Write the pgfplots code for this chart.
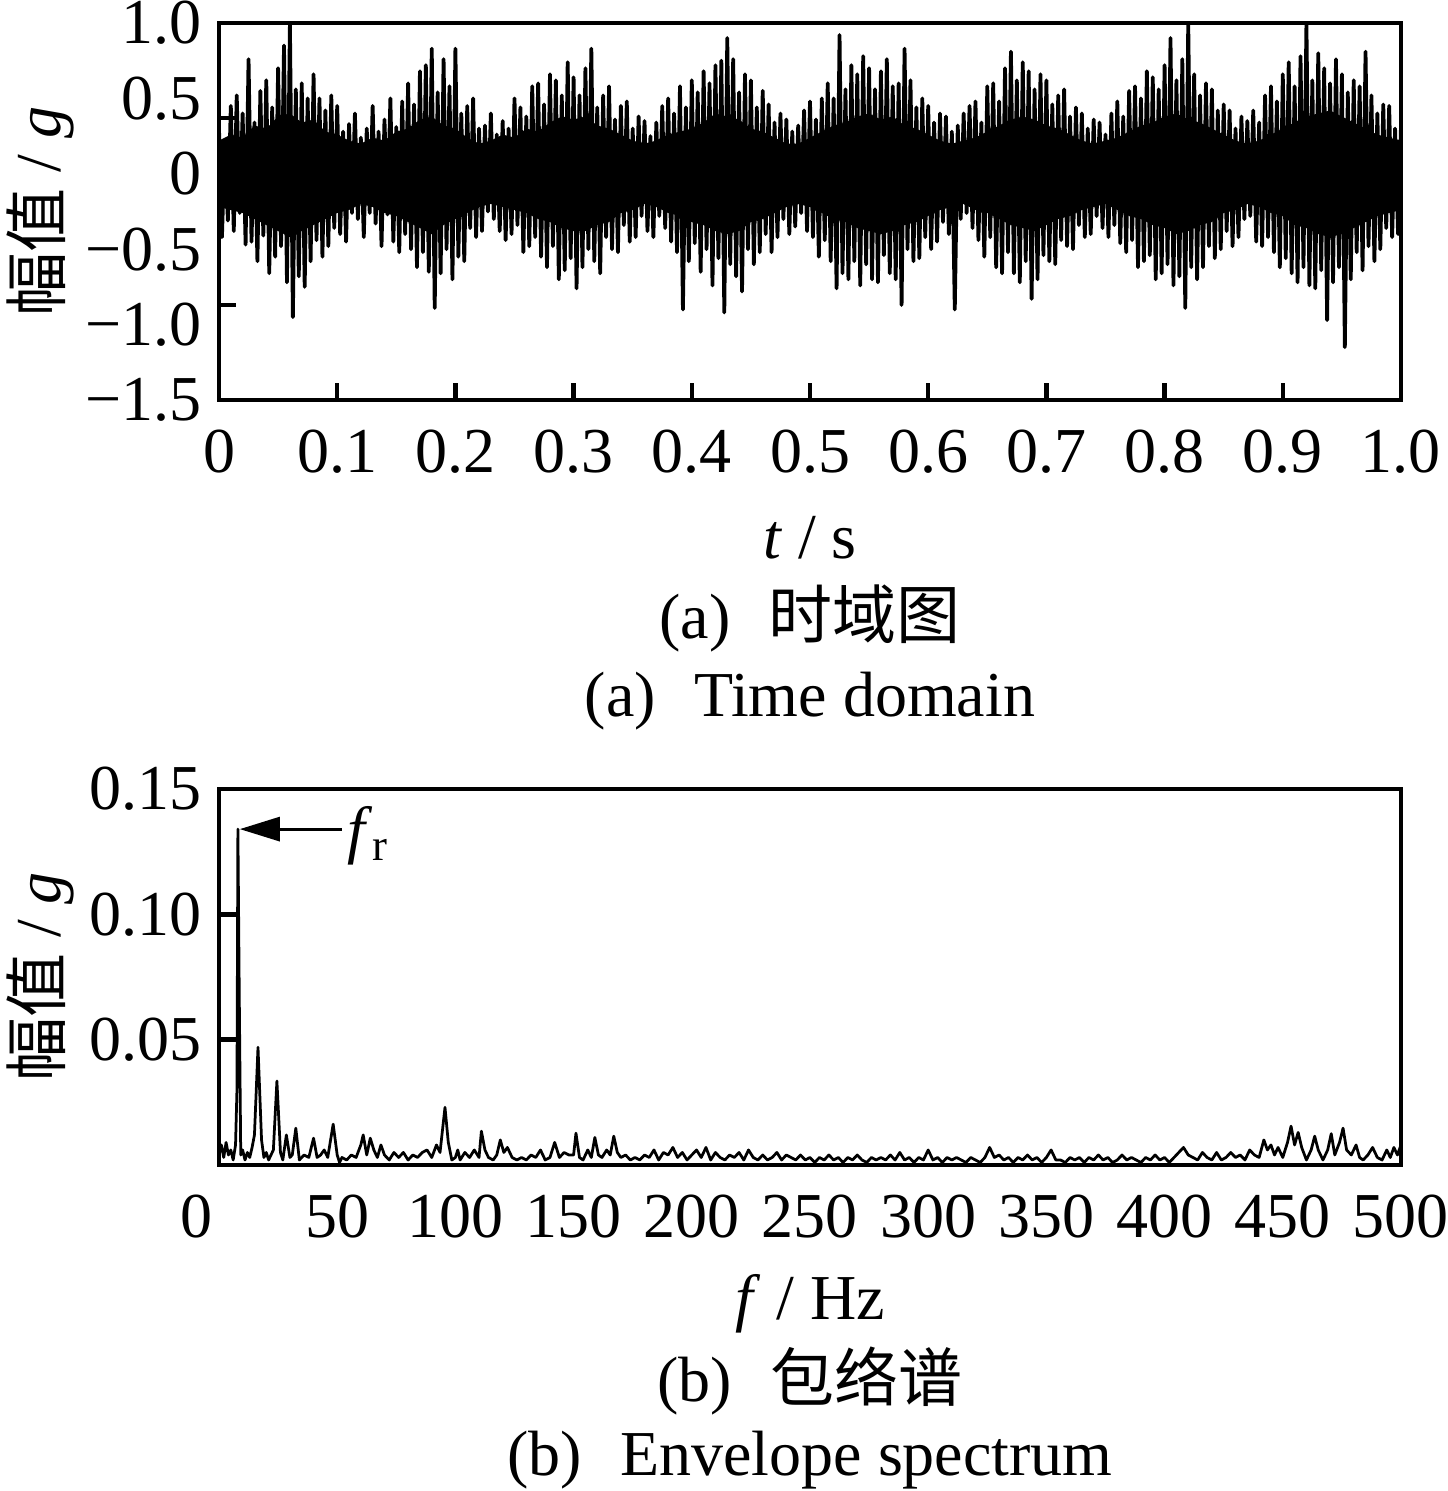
\documentclass[border=0pt]{standalone}
\usepackage{fontspec}
\setmainfont{Liberation Serif}
\newfontfamily\cjk{Noto Sans CJK SC}
\usepackage{pgfplots}
\pgfplotsset{compat=1.18}
\usepackage{pgfplotstable}
\usetikzlibrary{arrows.meta}

\pgfplotstableread[row sep=\\]{y\\
0.30\\ -0.42\\ 0.22\\ -0.31\\ 0.45\\ -0.38\\ 0.52\\ -0.26\\ 0.40\\ -0.47\\
0.76\\ -0.45\\ 0.34\\ -0.58\\ 0.55\\ -0.41\\ 0.62\\ -0.66\\ 0.44\\ -0.55\\
0.70\\ -0.48\\ 0.85\\ -0.72\\ 1.00\\ -0.95\\ 0.56\\ -0.68\\ 0.60\\ -0.75\\
0.50\\ -0.58\\ 0.66\\ -0.44\\ 0.50\\ -0.55\\ 0.42\\ -0.48\\ 0.52\\ -0.36\\
0.45\\ -0.40\\ 0.28\\ -0.45\\ 0.33\\ -0.26\\ 0.40\\ -0.30\\ 0.24\\ -0.42\\
0.30\\ -0.26\\ 0.45\\ -0.33\\ 0.28\\ -0.48\\ 0.36\\ -0.27\\ 0.50\\ -0.45\\
0.31\\ -0.52\\ 0.48\\ -0.40\\ 0.60\\ -0.50\\ 0.46\\ -0.62\\ 0.68\\ -0.52\\
0.72\\ -0.65\\ 0.83\\ -0.89\\ 0.54\\ -0.66\\ 0.76\\ -0.50\\ 0.58\\ -0.70\\
0.83\\ -0.55\\ 0.40\\ -0.58\\ 0.45\\ -0.36\\ 0.50\\ -0.42\\ 0.30\\ -0.38\\
0.32\\ -0.25\\ 0.40\\ -0.30\\ 0.26\\ -0.38\\ 0.35\\ -0.44\\ 0.30\\ -0.40\\
0.50\\ -0.34\\ 0.44\\ -0.52\\ 0.38\\ -0.48\\ 0.58\\ -0.42\\ 0.60\\ -0.55\\
0.46\\ -0.62\\ 0.66\\ -0.48\\ 0.62\\ -0.70\\ 0.52\\ -0.64\\ 0.74\\ -0.56\\
0.64\\ -0.76\\ 0.52\\ -0.62\\ 0.70\\ -0.50\\ 0.83\\ -0.58\\ 0.44\\ -0.66\\
0.52\\ -0.42\\ 0.58\\ -0.50\\ 0.36\\ -0.52\\ 0.45\\ -0.34\\ 0.48\\ -0.45\\
0.30\\ -0.42\\ 0.38\\ -0.28\\ 0.35\\ -0.38\\ 0.25\\ -0.42\\ 0.34\\ -0.28\\
0.45\\ -0.36\\ 0.50\\ -0.45\\ 0.40\\ -0.52\\ 0.58\\ -0.90\\ 0.44\\ -0.58\\
0.62\\ -0.46\\ 0.54\\ -0.65\\ 0.68\\ -0.50\\ 0.60\\ -0.74\\ 0.72\\ -0.56\\
0.75\\ -0.92\\ 0.90\\ -0.60\\ 0.76\\ -0.68\\ 0.54\\ -0.78\\ 0.66\\ -0.50\\
0.62\\ -0.60\\ 0.44\\ -0.52\\ 0.55\\ -0.40\\ 0.46\\ -0.52\\ 0.34\\ -0.42\\
0.40\\ -0.30\\ 0.36\\ -0.40\\ 0.28\\ -0.35\\ 0.32\\ -0.26\\ 0.42\\ -0.38\\
0.48\\ -0.42\\ 0.36\\ -0.55\\ 0.50\\ -0.44\\ 0.60\\ -0.58\\ 0.50\\ -0.76\\
0.92\\ -0.66\\ 0.56\\ -0.70\\ 0.72\\ -0.58\\ 0.66\\ -0.74\\ 0.78\\ -0.60\\
0.70\\ -0.70\\ 0.56\\ -0.72\\ 0.68\\ -0.54\\ 0.76\\ -0.66\\ 0.58\\ -0.70\\
0.60\\ -0.87\\ 0.83\\ -0.50\\ 0.62\\ -0.58\\ 0.44\\ -0.56\\ 0.50\\ -0.42\\
0.45\\ -0.50\\ 0.34\\ -0.45\\ 0.40\\ -0.32\\ 0.38\\ -0.40\\ 0.28\\ -0.90\\
0.32\\ -0.30\\ 0.40\\ -0.26\\ 0.45\\ -0.36\\ 0.48\\ -0.44\\ 0.34\\ -0.55\\
0.58\\ -0.42\\ 0.60\\ -0.62\\ 0.48\\ -0.66\\ 0.70\\ -0.52\\ 0.81\\ -0.66\\
0.62\\ -0.72\\ 0.74\\ -0.58\\ 0.68\\ -0.83\\ 0.56\\ -0.70\\ 0.66\\ -0.54\\
0.62\\ -0.58\\ 0.46\\ -0.60\\ 0.52\\ -0.44\\ 0.56\\ -0.48\\ 0.38\\ -0.50\\
0.44\\ -0.34\\ 0.40\\ -0.42\\ 0.30\\ -0.40\\ 0.36\\ -0.28\\ 0.34\\ -0.36\\
0.26\\ -0.42\\ 0.40\\ -0.34\\ 0.48\\ -0.46\\ 0.38\\ -0.52\\ 0.55\\ -0.44\\
0.58\\ -0.62\\ 0.50\\ -0.58\\ 0.68\\ -0.54\\ 0.64\\ -0.70\\ 0.56\\ -0.66\\
0.72\\ -0.60\\ 0.90\\ -0.74\\ 0.62\\ -0.68\\ 0.76\\ -0.89\\ 1.00\\ -0.62\\
0.66\\ -0.70\\ 0.52\\ -0.62\\ 0.60\\ -0.48\\ 0.56\\ -0.56\\ 0.42\\ -0.50\\
0.46\\ -0.38\\ 0.42\\ -0.48\\ 0.30\\ -0.42\\ 0.38\\ -0.30\\ 0.35\\ -0.28\\
0.42\\ -0.45\\ 0.34\\ -0.48\\ 0.52\\ -0.42\\ 0.58\\ -0.52\\ 0.48\\ -0.62\\
0.66\\ -0.56\\ 0.74\\ -0.66\\ 0.58\\ -0.72\\ 0.78\\ -0.62\\ 1.00\\ -0.74\\
0.62\\ -0.76\\ 0.80\\ -0.64\\ 0.70\\ -0.97\\ 0.60\\ -0.72\\ 0.76\\ -0.62\\
0.66\\ -1.15\\ 0.54\\ -0.70\\ 0.62\\ -0.52\\ 0.58\\ -0.64\\ 0.81\\ -0.48\\
0.52\\ -0.58\\ 0.40\\ -0.50\\ 0.46\\ -0.36\\ 0.45\\ -0.42\\ 0.30\\ -0.40\\
0.32\\
}\sig

\begin{document}
\begin{tikzpicture}[font=\fontsize{12.8}{15}\selectfont]
\useasboundingbox (0pt,0pt) rectangle (289.6pt,298.2pt);
\pgfplotsset{
  every axis/.append style={
    scale only axis, width=236.4pt,
    font=\fontsize{12.8}{15}\selectfont,
    axis line style={line width=0.8pt},
    tick align=inside, major tick length=3.4pt,
    every tick/.append style={line width=0.9pt, black},
    xtick pos=left, ytick pos=left,
    xticklabel style={yshift=-2.4pt},
  }
}
% ---------- (a) time domain ----------
\begin{axis}[
  at={(43.8pt,218.2pt)}, anchor=south west, height=75.4pt,
  xmin=0, xmax=1, ymin=-1.5, ymax=1,
  xtick={0,0.1,0.2,0.3,0.4,0.5,0.6,0.7,0.8,0.9,1},
  xticklabels={0,0.1,0.2,0.3,0.4,0.5,0.6,0.7,0.8,0.9,1.0},
  ytick={-1.5,-1,-0.5,0,0.5,1},
  yticklabels={−1.5,−1.0,−0.5,0,0.5,1.0},
  ytick style={draw=none},
  extra y ticks={0.37,-0.87}, extra y tick labels={},
  extra y tick style={ytick style={draw=black}},
  ylabel={{\cjk 幅值} / \textit{g}},
  ylabel style={at={(axis description cs:-0.1514,0.5)}, anchor=center},
]
\addplot[fill=black, draw=none] coordinates {
(0,0.22) (0.01,0.26) (0.02,0.24) (0.03,0.32) (0.04,0.30) (0.05,0.38) (0.06,0.40)
(0.07,0.34) (0.08,0.36) (0.09,0.28) (0.10,0.26) (0.11,0.22) (0.12,0.20) (0.13,0.24)
(0.14,0.22) (0.15,0.28) (0.16,0.30) (0.17,0.36) (0.18,0.38) (0.19,0.32) (0.20,0.30)
(0.21,0.24) (0.22,0.20) (0.23,0.22) (0.24,0.26) (0.25,0.24) (0.26,0.30) (0.27,0.28)
(0.28,0.34) (0.29,0.38) (0.30,0.36) (0.31,0.38) (0.32,0.32) (0.33,0.30) (0.34,0.26)
(0.35,0.22) (0.36,0.20) (0.37,0.22) (0.38,0.26) (0.39,0.28) (0.40,0.30) (0.41,0.34)
(0.42,0.40) (0.43,0.38) (0.44,0.36) (0.45,0.30) (0.46,0.28) (0.47,0.24) (0.48,0.20)
(0.49,0.20) (0.50,0.24) (0.51,0.28) (0.52,0.32) (0.53,0.34) (0.54,0.38) (0.55,0.40)
(0.56,0.36) (0.57,0.38) (0.58,0.32) (0.59,0.30) (0.60,0.26) (0.61,0.22) (0.62,0.20)
(0.63,0.22) (0.64,0.24) (0.65,0.28) (0.66,0.32) (0.67,0.36) (0.68,0.38) (0.69,0.36)
(0.70,0.32) (0.71,0.30) (0.72,0.26) (0.73,0.22) (0.74,0.20) (0.75,0.22) (0.76,0.24)
(0.77,0.28) (0.78,0.32) (0.79,0.34) (0.80,0.38) (0.81,0.40) (0.82,0.36) (0.83,0.34)
(0.84,0.30) (0.85,0.26) (0.86,0.22) (0.87,0.20) (0.88,0.22) (0.89,0.26) (0.90,0.30)
(0.91,0.34) (0.92,0.38) (0.93,0.40) (0.94,0.42) (0.95,0.38) (0.96,0.34) (0.97,0.30)
(0.98,0.26) (0.99,0.24) (1.00,0.22)
(1.00,-0.24) (0.99,-0.26) (0.98,-0.28) (0.97,-0.32) (0.96,-0.36) (0.95,-0.40)
(0.94,-0.42) (0.93,-0.40) (0.92,-0.36) (0.91,-0.34) (0.90,-0.28) (0.89,-0.26)
(0.88,-0.22) (0.87,-0.20) (0.86,-0.24) (0.85,-0.26) (0.84,-0.32) (0.83,-0.34)
(0.82,-0.38) (0.81,-0.40) (0.80,-0.36) (0.79,-0.34) (0.78,-0.30) (0.77,-0.28)
(0.76,-0.24) (0.75,-0.20) (0.74,-0.22) (0.73,-0.24) (0.72,-0.28) (0.71,-0.30)
(0.70,-0.34) (0.69,-0.38) (0.68,-0.36) (0.67,-0.34) (0.66,-0.30) (0.65,-0.26)
(0.64,-0.24) (0.63,-0.20) (0.62,-0.22) (0.61,-0.24) (0.60,-0.28) (0.59,-0.32)
(0.58,-0.34) (0.57,-0.38) (0.56,-0.40) (0.55,-0.38) (0.54,-0.36) (0.53,-0.32)
(0.52,-0.30) (0.51,-0.26) (0.50,-0.22) (0.49,-0.20) (0.48,-0.22) (0.47,-0.26)
(0.46,-0.30) (0.45,-0.32) (0.44,-0.38) (0.43,-0.40) (0.42,-0.38) (0.41,-0.34)
(0.40,-0.32) (0.39,-0.28) (0.38,-0.26) (0.37,-0.22) (0.36,-0.20) (0.35,-0.24)
(0.34,-0.26) (0.33,-0.32) (0.32,-0.34) (0.31,-0.38) (0.30,-0.38) (0.29,-0.36)
(0.28,-0.32) (0.27,-0.30) (0.26,-0.26) (0.25,-0.24) (0.24,-0.22) (0.23,-0.20)
(0.22,-0.22) (0.21,-0.26) (0.20,-0.30) (0.19,-0.34) (0.18,-0.40) (0.17,-0.36)
(0.16,-0.32) (0.15,-0.28) (0.14,-0.26) (0.13,-0.22) (0.12,-0.20) (0.11,-0.24)
(0.10,-0.26) (0.09,-0.30) (0.08,-0.34) (0.07,-0.38) (0.06,-0.42) (0.05,-0.38)
(0.04,-0.34) (0.03,-0.30) (0.02,-0.26) (0.01,-0.24) (0,-0.22)
};
\addplot[black, line width=0.75pt, line join=round] table[x expr=\coordindex*0.0025, y=y]{\sig};
\end{axis}
% ---------- (b) envelope spectrum ----------
\begin{axis}[
  at={(43.8pt,65.2pt)}, anchor=south west, height=75.2pt,
  xmin=0, xmax=500, ymin=0, ymax=0.15,
  xtick={0,50,100,150,200,250,300,350,400,450,500},
  xticklabels={\makebox[0pt][r]{0\hspace{1.2pt}},50,100,150,200,250,300,350,400,450,500},
  xtick style={draw=none},
  ytick={0.05,0.1,0.15}, yticklabels={0.05,0.10,0.15},
  ylabel={{\cjk 幅值} / \textit{g}},
  ylabel style={at={(axis description cs:-0.1514,0.5)}, anchor=center},
]
\addplot[black, line width=0.55pt, line join=round] coordinates {
(0,0.004) (1,0.008) (2,0.003) (3,0.009) (4,0.004) (5,0.006) (6,0.002) (7,0.008)
(7.6,0.03) (8,0.134) (8.6,0.065) (9.2,0.004) (10,0.006) (11,0.002) (12,0.005)
(13,0.003) (14,0.007) (15,0.012) (16.5,0.047) (18,0.01) (19,0.003) (20,0.005)
(21,0.002) (22,0.004) (23,0.006) (24.5,0.0335) (26,0.005) (27,0.002) (28.5,0.012)
(30,0.003) (31,0.004) (32.5,0.0147) (34,0.002) (36,0.004) (38,0.003) (40,0.0107)
(41.5,0.003) (43,0.004) (44.5,0.006) (46,0.003) (48.3,0.0163) (50,0.004) (51,0.001)
(52,0.003) (54,0.002) (56,0.004) (58,0.003) (60,0.008) (61,0.012) (62.5,0.004)
(64,0.0107) (65.5,0.006) (67,0.003) (68.5,0.008) (70,0.004) (72,0.002) (74,0.005)
(76,0.003) (78,0.005) (80,0.002) (82,0.004) (84,0.003) (86,0.005) (88,0.006)
(90,0.003) (92,0.008) (93.5,0.005) (95.6,0.023) (97,0.009) (98.5,0.002) (100,0.003)
(101,0.006) (102,0.002) (104,0.005) (106,0.003) (108,0.006) (110,0.003) (111,0.0135)
(112.5,0.006) (114,0.003) (116,0.002) (117.5,0.004) (119,0.010) (120.5,0.005)
(122,0.007) (124,0.003) (126,0.002) (128,0.003) (130,0.002) (132,0.004) (134,0.003)
(136,0.006) (138,0.002) (140,0.003) (142,0.009) (144,0.003) (146,0.005) (148,0.004)
(150,0.004) (151,0.0127) (152.5,0.003) (154,0.002) (156,0.006) (157.5,0.003)
(159,0.011) (160.5,0.004) (162,0.003) (164,0.006) (165.5,0.004) (167,0.0115)
(168.5,0.005) (170,0.003) (172,0.004) (174,0.002) (176,0.003) (178,0.002) (180,0.004)
(182,0.003) (184,0.006) (186,0.002) (188,0.005) (190,0.004) (192,0.007) (194,0.003)
(196,0.005) (198,0.002) (200,0.004) (202,0.006) (204,0.003) (206,0.007) (208,0.002)
(210,0.005) (212,0.003) (214,0.002) (216,0.004) (218,0.003) (220,0.005) (222,0.002)
(224,0.006) (226,0.003) (228,0.002) (230,0.004) (232,0.002) (234,0.003) (236,0.005)
(238,0.002) (240,0.004) (242,0.003) (244,0.002) (246,0.004) (248,0.002) (250,0.003)
(252,0.001) (254,0.003) (256,0.002) (258,0.004) (260,0.002) (262,0.003) (264,0.001)
(266,0.003) (268,0.002) (270,0.004) (272,0.002) (274,0.001) (276,0.003) (278,0.002)
(280,0.003) (282,0.002) (284,0.004) (286,0.002) (288,0.005) (290,0.002) (292,0.003)
(294,0.001) (296,0.003) (298,0.002) (300,0.006) (302,0.002) (304,0.003) (306,0.001)
(308,0.003) (310,0.002) (312,0.003) (314,0.002) (316,0.001) (318,0.003) (320,0.002)
(322,0.001) (324,0.003) (326,0.007) (328,0.003) (330,0.004) (332,0.002) (334,0.003)
(336,0.001) (338,0.003) (340,0.002) (342,0.004) (344,0.002) (346,0.003) (348,0.001)
(350,0.003) (352,0.006) (354,0.002) (356,0.002) (358,0.001) (360,0.003) (362,0.002)
(364,0.003) (366,0.001) (368,0.003) (370,0.002) (372,0.004) (374,0.002) (376,0.003)
(378,0.001) (380,0.002) (382,0.004) (384,0.002) (386,0.003) (388,0.002) (390,0.001)
(392,0.003) (394,0.002) (396,0.004) (398,0.002) (400,0.003) (402,0.001) (404,0.003)
(406,0.005) (408,0.007) (410,0.004) (412,0.003) (414,0.002) (416,0.005) (418,0.003)
(420,0.002) (422,0.005) (424,0.002) (426,0.003) (428,0.005) (430,0.003) (432,0.004)
(434,0.002) (436,0.006) (438,0.004) (440,0.003) (442,0.010) (443.5,0.006) (445,0.008)
(446.5,0.004) (448,0.007) (450,0.003) (452,0.009) (453.5,0.0155) (455,0.008)
(456.5,0.013) (458,0.007) (460,0.002) (462,0.006) (463.5,0.0115) (465,0.006)
(467,0.002) (469,0.006) (470.5,0.0125) (472,0.004) (474,0.009) (475.5,0.0147)
(477,0.006) (479,0.004) (481,0.008) (482.5,0.003) (484,0.002) (486,0.004) (488,0.007)
(490,0.003) (492,0.002) (494,0.006) (495.5,0.003) (497,0.007) (498.5,0.004) (500,0.008)
};
\draw[line width=0.6pt, -{Triangle[length=8pt,width=4.8pt]}] (axis cs:52,0.134) -- (axis cs:8.8,0.134);
\node[anchor=base west, inner sep=0pt] at (axis cs:54,0.125) {\textit{f}\textsubscript{r}};
\end{axis}
% ---------- captions ----------
\node[anchor=base, inner sep=0pt] at (162pt,186.6pt) {\textit{t} / s};
\node[anchor=base, inner sep=0pt] at (162pt,170.4pt) {(a)\hspace{0.6em}{\cjk 时域图}};
\node[anchor=base, inner sep=0pt] at (162pt,154.8pt) {(a)\hspace{0.6em}Time domain};
\node[anchor=base, inner sep=0pt] at (162pt,34.2pt) {\textit{f} / Hz};
\node[anchor=base, inner sep=0pt] at (162pt,17.8pt) {(b)\hspace{0.6em}{\cjk 包络谱}};
\node[anchor=base, inner sep=0pt] at (162pt,3.0pt) {(b)\hspace{0.6em}Envelope spectrum};
\end{tikzpicture}
\end{document}
